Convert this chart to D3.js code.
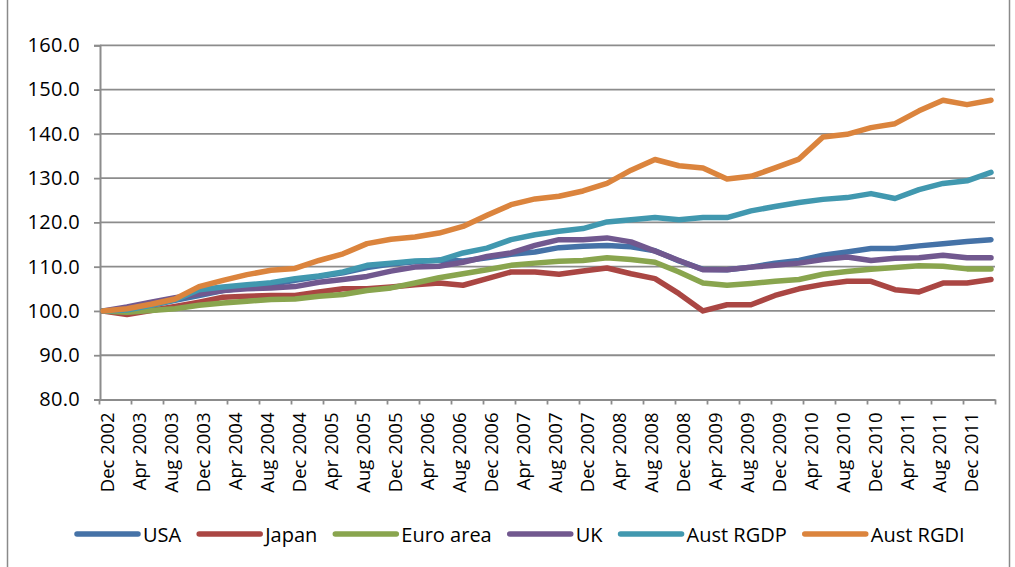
<!DOCTYPE html>
<html>
<head>
<meta charset="utf-8">
<script src="https://cdn.jsdelivr.net/npm/d3@7"></script>
<style>
	body { margin: 0; background: #fff; }
	svg text { font-family: "Open Sans", "Liberation Sans", sans-serif; fill: #000; }
</style>
</head>
<body>
<svg id="chart" width="1015" height="567"></svg>
<script>

// quarterly observations, Dec 2002 .. Mar 2012 (index, Dec 2002 = 100)
const quarters = ["Dec 2002","Mar 2003","Jun 2003","Sep 2003","Dec 2003","Mar 2004","Jun 2004","Sep 2004",
	"Dec 2004","Mar 2005","Jun 2005","Sep 2005","Dec 2005","Mar 2006","Jun 2006","Sep 2006",
	"Dec 2006","Mar 2007","Jun 2007","Sep 2007","Dec 2007","Mar 2008","Jun 2008","Sep 2008",
	"Dec 2008","Mar 2009","Jun 2009","Sep 2009","Dec 2009","Mar 2010","Jun 2010","Sep 2010",
	"Dec 2010","Mar 2011","Jun 2011","Sep 2011","Dec 2011","Mar 2012"];

const usa = [100.0, 99.8, 101.3, 102.4, 103.5, 104.6, 105.3, 106.0, 106.9, 107.8, 108.6, 109.8, 110.6, 111.1, 111.5, 111.3,
	112.0, 112.8, 113.3, 114.3, 114.6, 114.8, 114.5, 113.6, 111.3, 109.4, 109.3, 109.9, 110.8, 111.4, 112.6, 113.3,
	114.1, 114.1, 114.7, 115.2, 115.7, 116.1];
const japan = [100.0, 99.2, 100.1, 101.0, 102.0, 103.1, 103.3, 103.5, 103.5, 104.3, 105.0, 105.0, 105.4, 105.9, 106.3, 105.8,
	107.3, 108.8, 108.8, 108.3, 109.0, 109.7, 108.4, 107.3, 103.9, 100.0, 101.4, 101.4, 103.5, 105.0, 106.0, 106.7,
	106.7, 104.8, 104.3, 106.3, 106.3, 107.1];
const euro = [100.0, 99.7, 100.1, 100.5, 101.3, 101.8, 102.2, 102.6, 102.7, 103.3, 103.7, 104.6, 105.2, 106.3, 107.5, 108.4,
	109.3, 110.3, 110.8, 111.2, 111.4, 112.0, 111.6, 111.0, 108.8, 106.3, 105.8, 106.2, 106.7, 107.1, 108.3, 108.9,
	109.4, 109.8, 110.2, 110.1, 109.5, 109.5];
const uk = [100.0, 100.9, 102.0, 103.0, 103.8, 104.6, 105.0, 105.2, 105.5, 106.5, 107.1, 107.8, 109.0, 109.9, 110.1, 111.0,
	112.3, 113.1, 114.8, 116.1, 116.1, 116.5, 115.6, 113.5, 111.4, 109.3, 109.3, 109.9, 110.3, 110.8, 111.6, 112.2,
	111.4, 111.9, 112.0, 112.6, 112.0, 112.0];
const austRGDP = [100.0, 100.2, 101.3, 102.5, 104.8, 105.4, 105.9, 106.4, 107.3, 107.9, 108.8, 110.3, 110.8, 111.3, 111.4, 113.1,
	114.2, 116.1, 117.2, 118.0, 118.6, 120.1, 120.6, 121.1, 120.6, 121.1, 121.1, 122.6, 123.6, 124.5, 125.2, 125.6,
	126.5, 125.4, 127.4, 128.8, 129.4, 131.3];
const austRGDI = [100.0, 100.5, 101.5, 102.7, 105.5, 106.9, 108.2, 109.2, 109.6, 111.4, 112.9, 115.2, 116.2, 116.7, 117.6, 119.1,
	121.6, 124.0, 125.3, 125.9, 127.1, 128.8, 131.8, 134.2, 132.8, 132.3, 129.8, 130.4, 132.3, 134.3, 139.3, 139.9,
	141.4, 142.3, 145.2, 147.6, 146.6, 147.6];

const seriesNames = ["USA", "Japan", "Euro area", "UK", "Aust RGDP", "Aust RGDI"];
const seriesValues = [usa, japan, euro, uk, austRGDP, austRGDI];
const colors = ["#4572a7", "#aa4643", "#89a54e", "#71588f", "#4198af", "#db843d"];

// axis labels, one every four months
const tickLabels = ["Dec 2002","Apr 2003","Aug 2003","Dec 2003","Apr 2004","Aug 2004","Dec 2004","Apr 2005",
	"Aug 2005","Dec 2005","Apr 2006","Aug 2006","Dec 2006","Apr 2007","Aug 2007","Dec 2007",
	"Apr 2008","Aug 2008","Dec 2008","Apr 2009","Aug 2009","Dec 2009","Apr 2010","Aug 2010",
	"Dec 2010","Apr 2011","Aug 2011","Dec 2011"];
const yTicks = [80, 90, 100, 110, 120, 130, 140, 150, 160];

main();

function main() {

	let svg = d3.select('#chart'),
		grey = '#8c8c8c',
		left = 100, right = 995, top = 45.3, bottom = 399.5,
		nMonths = tickLabels.length * 4,
		// month index from Dec 2002; each month is one slot on the axis
		x = d3.scaleLinear().domain([0, nMonths]).range([left - 1, right]),
		y = d3.scaleLinear().domain([80, 160]).range([bottom, top]);

	// chart frame
	svg.append('rect')
		.attr('x', 7.5).attr('y', -2)
		.attr('width', 1002).attr('height', 575)
		.attr('fill', 'none').attr('stroke', '#8a8a8a').attr('stroke-width', 1.5);

	// gridlines
	svg.append('g')
		.selectAll('line')
		.data(yTicks.slice(1))
		.enter()
		.append('line')
		.attr('x1', left).attr('x2', right)
		.attr('y1', d => y(d)).attr('y2', d => y(d))
		.attr('stroke', grey).attr('stroke-width', 1.8);

	// y axis
	let yAxis = svg.append('g')
		.attr('transform', 'translate(' + left + ',0)')
		.call(d3.axisLeft(y).tickValues(yTicks).tickFormat(d3.format('.1f')).tickSize(6).tickPadding(14));
	yAxis.select('.domain').attr('stroke', grey).attr('stroke-width', 2);
	yAxis.selectAll('.tick line').attr('stroke', grey).attr('stroke-width', 1.8);
	yAxis.selectAll('text')
		.style('font-size', '20px').style('letter-spacing', '0.3px')
		.attr('fill', '#000');

	// x axis
	let monthTicks = d3.range(0, nMonths + 1, 4);
	let xAxis = svg.append('g')
		.attr('transform', 'translate(0,' + bottom + ')')
		.call(d3.axisBottom(x).tickValues(monthTicks).tickFormat('').tickSize(5).tickSizeOuter(0));
	xAxis.select('.domain').attr('stroke', grey).attr('stroke-width', 2);
	xAxis.selectAll('.tick line').attr('stroke', grey).attr('stroke-width', 1.8);

	svg.append('g')
		.selectAll('text')
		.data(tickLabels)
		.enter()
		.append('text')
		.attr('transform', (d, i) => 'translate(' + (x(i * 4 + 1) + 7) + ',' + (bottom + 13) + ') rotate(-90)')
		.attr('text-anchor', 'end')
		.style('font-size', '18.5px')
		.text(d => d);

	// series lines (quarterly points sit in the middle of their month slot)
	let line = d3.line()
		.x((d, i) => x(i * 3 + 0.5))
		.y(d => y(d));

	svg.append('g')
		.selectAll('path')
		.data(seriesValues)
		.enter()
		.append('path')
		.attr('d', d => line(d))
		.attr('fill', 'none')
		.attr('stroke', (d, i) => colors[i])
		.attr('stroke-width', 5.5)
		.attr('stroke-linejoin', 'round')
		.attr('stroke-linecap', 'round');

	// legend, laid out left to right
	let legend = svg.append('g').attr('transform', 'translate(0,534)'),
		lx = 77;
	seriesNames.forEach(function (name, i) {
		legend.append('line')
			.attr('x1', lx).attr('x2', lx + 61)
			.attr('y1', 0).attr('y2', 0)
			.attr('stroke', colors[i]).attr('stroke-width', 5.5)
			.attr('stroke-linecap', 'round');
		let t = legend.append('text')
			.attr('x', lx + 66).attr('y', 8)
			.style('font-size', '20px')
			.text(name);
		lx += 66 + t.node().getComputedTextLength() + 18;
	});
};
</script>
</body>
</html>
